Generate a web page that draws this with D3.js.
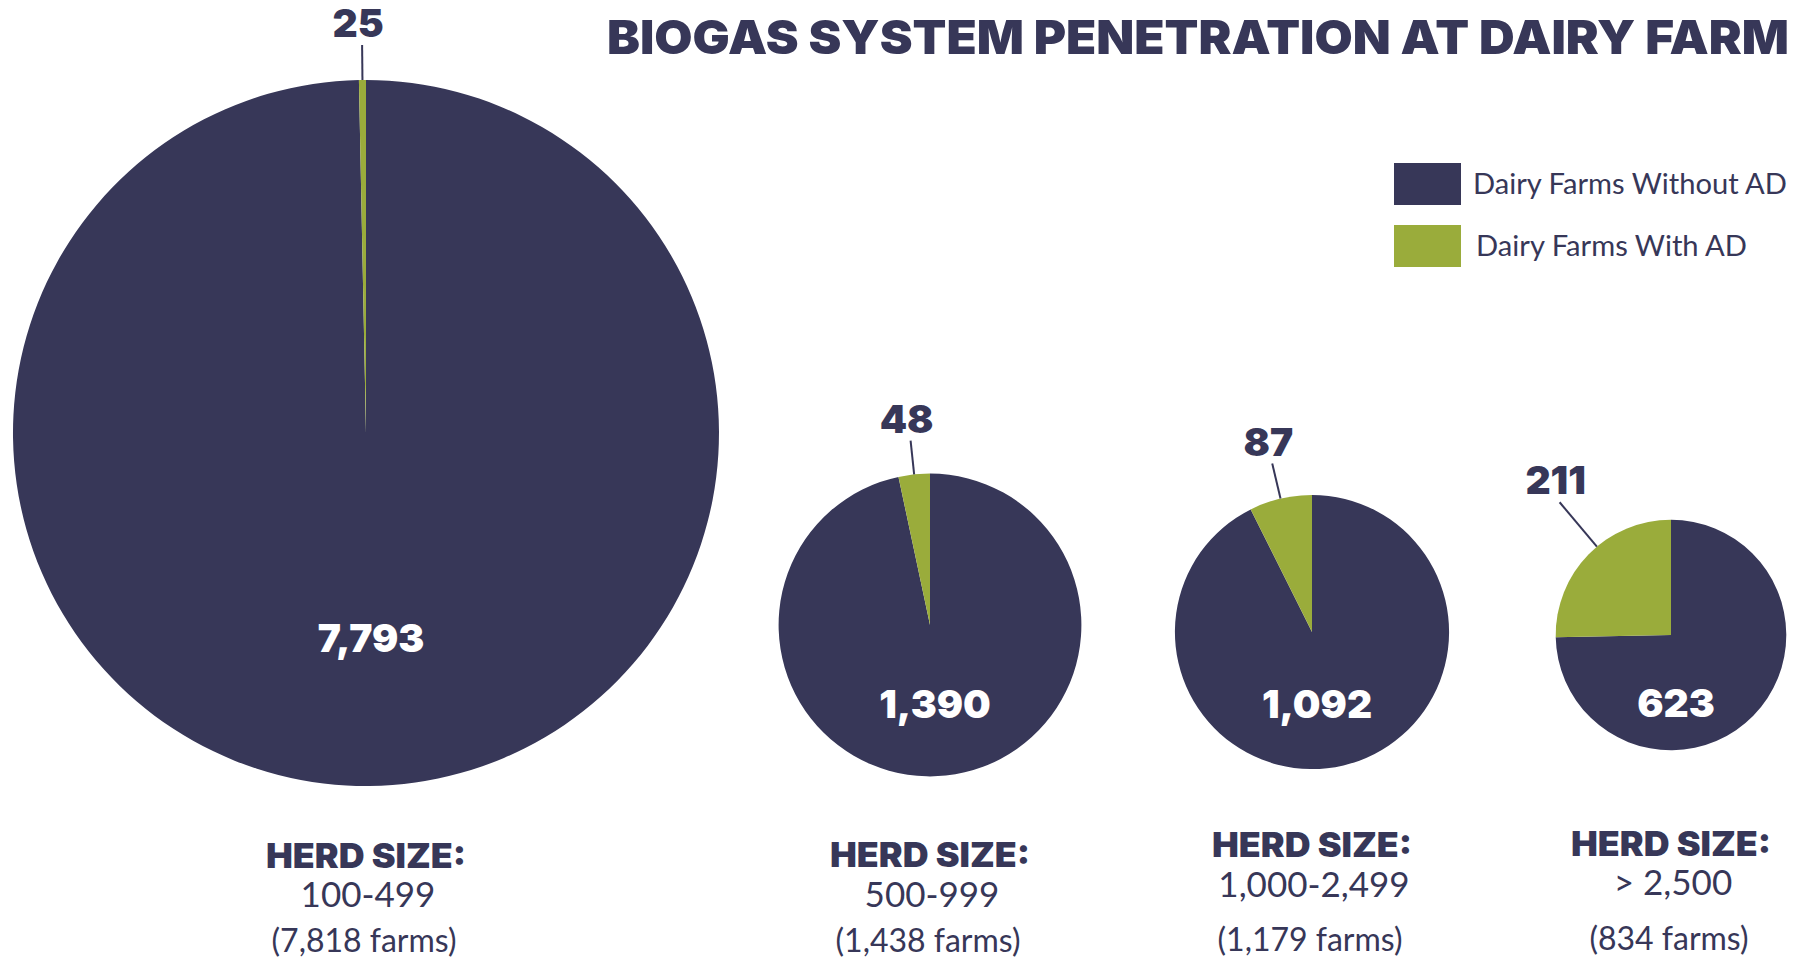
<!DOCTYPE html>
<html><head><meta charset="utf-8">
<script src="https://cdn.jsdelivr.net/npm/d3@7"></script>
<style>body{margin:0;background:#fff}</style></head>
<body><svg id="chart" width="1794" height="960"></svg>
<script>
// ---- data ----
const herdSizes = ["100-499", "500-999", "1,000-2,499", "> 2,500"];
const farmsTotal = [7818, 1438, 1179, 834];
const farmsWithoutAD = [7793, 1390, 1092, 623];
const farmsWithAD = [25, 48, 87, 211];
const seriesNames = ["Dairy Farms Without AD", "Dairy Farms With AD"];
const titleText = "BIOGAS SYSTEM PENETRATION AT DAIRY FARM";

// ---- layout ----
const W = 1794, H = 960;
const centers = [[366, 433], [930, 625], [1312, 632], [1671, 635]];
const innerLabelY = [637, 703, 703, 702];
const leaderLen = [35, 34, 36, 58];
const bottomBaselines = [[868, 907, 952], [867, 907, 952], [857, 897, 951], [856, 895, 950]];
const maxLeaderAngle = 40 * Math.PI / 180;
const legendTextLen = [314, 271];

const navy = "#373758", green = "#9AAC3B";
const color = d3.scaleOrdinal().domain(seriesNames).range([navy, green]);
const heavy = "Inter, 'Noto Sans', sans-serif";
const regular = "Lato, 'Open Sans', sans-serif";
const fmt = d3.format(",");

const svg = d3.select("#chart");
const rScale = d3.scaleSqrt().domain([0, d3.max(farmsTotal)]).range([0, 353]);
const pie = d3.pie().sort(null).value(d => d.value);

// title
svg.append("text")
  .attr("x", 607).attr("y", 54)
  .attr("font-family", heavy).attr("font-weight", 900).attr("font-size", 47)
  .attr("fill", navy)
  .attr("textLength", 1182).attr("lengthAdjust", "spacingAndGlyphs")
  .text(titleText);

// legend
const legend = svg.append("g");
seriesNames.forEach((name, i) => {
  legend.append("rect")
    .attr("x", 1394).attr("y", 163 + i * 62)
    .attr("width", 67).attr("height", 42)
    .attr("fill", color(name));
  legend.append("text")
    .attr("x", 1473 + i * 3).attr("y", 194 + i * 62)
    .attr("font-family", regular).attr("font-size", 28)
    .attr("fill", navy)
    .attr("textLength", legendTextLen[i]).attr("lengthAdjust", "spacingAndGlyphs")
    .text(name);
});

herdSizes.forEach((hs, i) => {
  const [cx, cy] = centers[i];
  const r = rScale(farmsTotal[i]);
  const g = svg.append("g").attr("transform", `translate(${cx},${cy})`);
  const slices = pie([
    { key: seriesNames[0], value: farmsWithoutAD[i] },
    { key: seriesNames[1], value: farmsWithAD[i] }
  ]);
  const arc = d3.arc().innerRadius(0).outerRadius(r);
  g.selectAll("path").data(slices).join("path")
    .attr("d", arc)
    .attr("fill", d => color(d.data.key));

  // interior label (without AD)
  svg.append("text")
    .attr("x", cx + 5).attr("y", innerLabelY[i])
    .attr("text-anchor", "middle").attr("dominant-baseline", "central")
    .attr("font-family", heavy).attr("font-weight", 900).attr("font-size", 39)
    .attr("fill", "#fff")
    .text(fmt(farmsWithoutAD[i]));

  // leader line + label for with AD
  const s = slices[1];
  const mid = (s.startAngle + s.endAngle) / 2;
  let a = 2 * Math.PI - mid; // counter-clockwise offset from 12 o'clock
  a = Math.min(a, maxLeaderAngle);
  const ang = -a;
  const p1 = [r * Math.sin(ang), -r * Math.cos(ang)];
  const rr = r + leaderLen[i];
  const p2 = [rr * Math.sin(ang), -rr * Math.cos(ang)];
  g.append("line")
    .attr("x1", p1[0]).attr("y1", p1[1])
    .attr("x2", p2[0]).attr("y2", p2[1])
    .attr("stroke", navy).attr("stroke-width", 2);
  g.append("text")
    .attr("x", p2[0] - 4).attr("y", p2[1] - 8)
    .attr("text-anchor", "middle")
    .attr("font-family", heavy).attr("font-weight", 900).attr("font-size", 39)
    .attr("fill", navy)
    .text(fmt(farmsWithAD[i]));

  // bottom labels
  const bl = bottomBaselines[i];
  svg.append("text")
    .attr("x", cx).attr("y", bl[0])
    .attr("text-anchor", "middle")
    .attr("font-family", heavy).attr("font-weight", 900).attr("font-size", 34)
    .attr("fill", navy)
    .attr("textLength", 200).attr("lengthAdjust", "spacingAndGlyphs")
    .text("HERD SIZE:");
  svg.append("text")
    .attr("x", cx + 2).attr("y", bl[1])
    .attr("text-anchor", "middle")
    .attr("font-family", regular).attr("font-size", 35)
    .attr("fill", navy)
    .text(hs);
  svg.append("text")
    .attr("x", cx - 2).attr("y", bl[2])
    .attr("text-anchor", "middle")
    .attr("font-family", regular).attr("font-size", 32)
    .attr("fill", navy)
    .text(`(${fmt(farmsTotal[i])} farms)`);
});
</script></body></html>
